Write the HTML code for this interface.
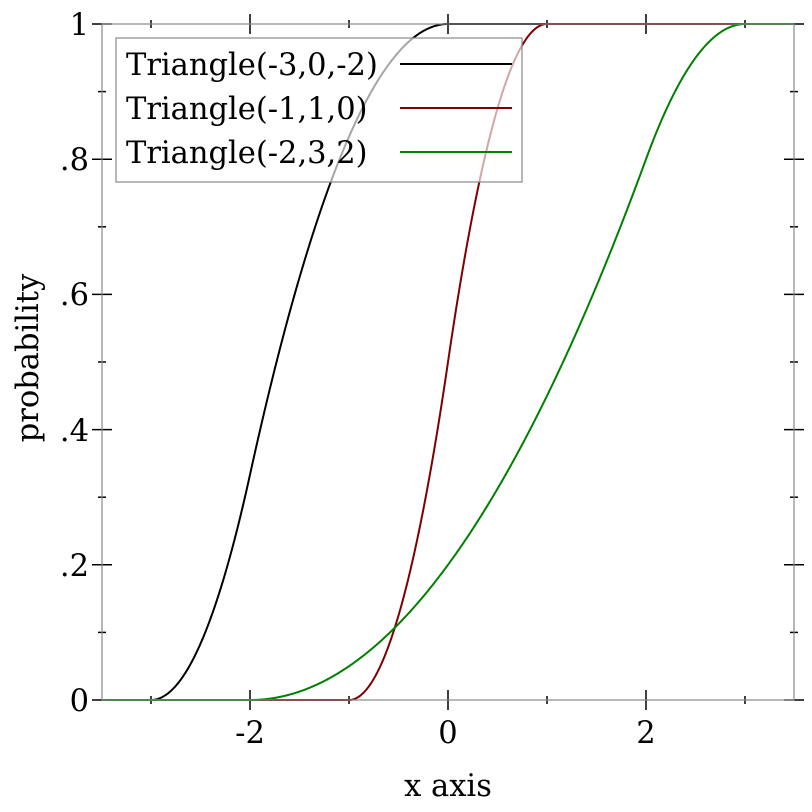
<!DOCTYPE html>
<html><head><style>body{margin:0;background:#fff}svg{display:block}text{font-family:"DejaVu Serif",serif;font-size:30.5px;fill:#000}</style></head>
<body>
<svg id="s" width="812" height="812" xmlns="http://www.w3.org/2000/svg">
<g id="ticks" stroke="#000" stroke-width="1.5"></g>
<g id="curves" fill="none" stroke-width="2"></g>
<rect x="102" y="24" width="692" height="676" fill="none" stroke="#888" stroke-width="1.2"/>
<rect x="116" y="38" width="406" height="144" fill="#fff" fill-opacity="0.65" stroke="#888" stroke-width="1.2"/>
<text x="126" y="75">Triangle(-3,0,-2)</text>
<text x="126" y="119">Triangle(-1,1,0)</text>
<text x="126" y="163">Triangle(-2,3,2)</text>
<line x1="400" y1="64" x2="512" y2="64" stroke="#000" stroke-width="2"/>
<line x1="400" y1="108" x2="512" y2="108" stroke="#7f0000" stroke-width="2"/>
<line x1="400" y1="152" x2="512" y2="152" stroke="#008000" stroke-width="2"/>
<g text-anchor="middle">
<text x="250" y="743">-2</text><text x="448" y="743">0</text><text x="646" y="743">2</text>
<text x="448" y="796">x axis</text>
<text transform="translate(38,358) rotate(-90)">probability</text>
</g>
<g text-anchor="end">
<text x="89" y="711">0</text><text x="89" y="576">.2</text><text x="89" y="441">.4</text>
<text x="89" y="305">.6</text><text x="89" y="170">.8</text><text x="89" y="35">1</text>
</g>
</svg>
<script>
const NS="http://www.w3.org/2000/svg";
const X=x=>448+99*x, Y=p=>700-676*p;
function cdf(a,b,m,x){if(x<=a)return 0;if(x>=b)return 1;if(x<=m)return (x-a)*(x-a)/((b-a)*(m-a));return 1-(b-x)*(b-x)/((b-a)*(b-m));}
const series=[[-3,0,-2,"#000"],[-1,1,0,"#7f0000"],[-2,3,2,"#008000"]];
const cg=document.getElementById("curves");
for(const [a,b,m,c] of series){let d="";for(let i=0;i<=700;i++){const x=-3.5+7*i/700;d+=(i?"L":"M")+X(x).toFixed(2)+","+Y(cdf(a,b,m,x)).toFixed(2);}
const p=document.createElementNS(NS,"path");p.setAttribute("d",d);p.setAttribute("stroke",c);cg.appendChild(p);}
const tg=document.getElementById("ticks");
function ln(x1,y1,x2,y2){const l=document.createElementNS(NS,"line");l.setAttribute("x1",x1);l.setAttribute("y1",y1);l.setAttribute("x2",x2);l.setAttribute("y2",y2);tg.appendChild(l);}
for(let v=-3;v<=3;v++){const x=X(v),h=(v%2===0)?10:4;ln(x,700-h,x,700+h);ln(x,24-h,x,24+h);}
for(let k=0;k<=10;k++){const y=Y(k/10),h=(k%2===0)?10:4;ln(102-h,y,102+h,y);ln(794-h,y,794+h,y);}
</script>
</body></html>
